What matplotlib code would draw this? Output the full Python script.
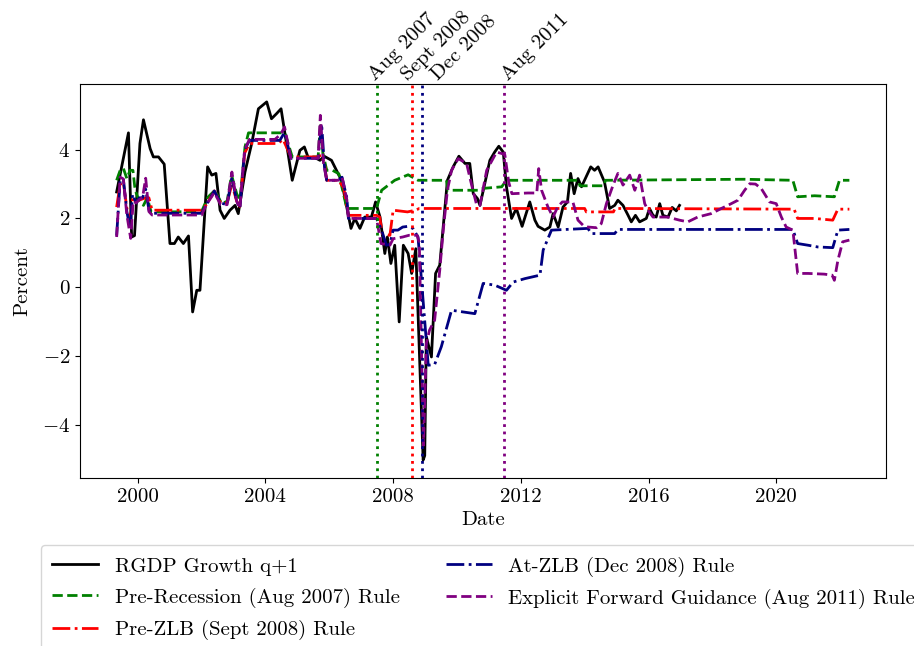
import matplotlib
matplotlib.use("Agg")
import matplotlib.pyplot as plt
import matplotlib.transforms as mtransforms

plt.rcParams["font.family"] = ["cmr10", "DejaVu Serif"]
plt.rcParams["mathtext.fontset"] = "cm"
plt.rcParams["axes.formatter.use_mathtext"] = True
plt.rcParams["axes.unicode_minus"] = True

# ---- data (dates as fractional years, values in percent) ----
gdp_t = [1999.34, 1999.71, 1999.81, 1999.9, 2000.07, 2000.18, 2000.39, 2000.49, 2000.65,
         2000.83, 2001.01, 2001.15, 2001.27, 2001.43, 2001.59, 2001.72, 2001.85, 2001.95,
         2002.19, 2002.32, 2002.45, 2002.58, 2002.71, 2002.89, 2003.05, 2003.15, 2003.36,
         2003.57, 2003.78, 2004.04, 2004.19, 2004.35, 2004.49, 2004.84, 2005.08, 2005.22,
         2005.34, 2005.55, 2005.71, 2005.84, 2006.07, 2006.38, 2006.68, 2006.8, 2006.96,
         2007.11, 2007.32, 2007.45, 2007.59, 2007.74, 2007.82, 2007.93, 2008.05, 2008.19,
         2008.32, 2008.47, 2008.58, 2008.71, 2008.94, 2008.99, 2009.04, 2009.2, 2009.33,
         2009.46, 2009.7, 2009.88, 2010.06, 2010.25, 2010.4, 2010.51, 2010.64, 2010.72,
         2010.87, 2011.03, 2011.18, 2011.31, 2011.45, 2011.55, 2011.71, 2011.86, 2012.04,
         2012.28, 2012.44, 2012.54, 2012.75, 2012.91, 2013.01, 2013.17, 2013.32, 2013.46,
         2013.56, 2013.67, 2013.79, 2013.9, 2014.02, 2014.19, 2014.31, 2014.42, 2014.62,
         2014.78, 2014.94, 2015.04, 2015.2, 2015.36, 2015.46, 2015.59, 2015.72, 2015.93,
         2016.03, 2016.14, 2016.24, 2016.35, 2016.45, 2016.61, 2016.74, 2016.87, 2016.97]
gdp_v = [2.77, 4.49, 1.46, 1.5, 4.18, 4.87, 4.03, 3.79, 3.79,
         3.58, 1.27, 1.27, 1.46, 1.27, 1.49, -0.72, -0.09, -0.09,
         3.50, 3.26, 3.31, 2.24, 2.0, 2.24, 2.38, 2.14, 3.35,
         4.18, 5.19, 5.39, 4.9, 5.05, 5.19, 3.11, 3.98, 4.08,
         3.77, 3.77, 3.69, 3.81, 3.69, 3.11, 1.71, 2.0, 1.71,
         2.04, 2.04, 2.48, 2.04, 0.98, 1.46, 0.69, 1.22, -1.01,
         1.22, 0.98, 0.4, 1.12, -5.03, -4.9, -1.44, -2.03, 0.4,
         0.64, 3.11, 3.5, 3.81, 3.6, 3.6, 2.72, 2.58, 2.38,
         3.01, 3.69, 3.93, 4.1, 3.93, 2.92, 2.0, 2.29, 1.77,
         2.48, 1.95, 1.77, 1.66, 1.75, 2.14, 1.75, 2.33, 2.48,
         3.31, 2.72, 3.16, 2.92, 3.16, 3.5, 3.4, 3.5, 3.06,
         2.29, 2.38, 2.53, 2.38, 2.09, 1.9, 2.09, 1.9, 2.0,
         2.29, 2.09, 2.04, 2.43, 2.09, 2.04, 2.32, 2.22, 2.38]

pre_rec_t = [1999.34, 1999.45, 1999.55, 1999.66, 1999.76, 1999.85, 1999.92, 2000.05, 2000.18,
             2000.3, 2000.42, 2001.0, 2002.0, 2002.2, 2002.42, 2002.63, 2002.8, 2002.94,
             2003.1, 2003.2, 2003.36, 2003.47, 2004.61, 2004.84, 2005.65, 2005.72, 2005.8,
             2005.92, 2006.1, 2006.3, 2006.55, 2007.48, 2007.64, 2008.05, 2008.47, 2008.78,
             2009.67, 2009.72, 2010.66, 2010.77, 2011.4, 2011.55, 2013.8, 2013.85, 2014.6,
             2014.65, 2019.0, 2020.52, 2020.67, 2021.2, 2021.82, 2021.98, 2022.29]
pre_rec_v = [3.11, 3.4, 3.46, 3.16, 3.4, 3.4, 2.82, 2.5, 2.38,
             2.6, 2.19, 2.19, 2.2, 2.62, 2.82, 2.43, 2.5, 3.26,
             2.72, 2.53, 4.08, 4.49, 4.49, 3.79, 3.79, 4.7, 3.9,
             3.4, 3.4, 3.3, 2.29, 2.29, 2.82, 3.11, 3.27, 3.11,
             3.11, 2.82, 2.82, 2.87, 2.92, 3.11, 3.11, 2.95, 2.95,
             3.11, 3.14, 3.11, 2.63, 2.66, 2.63, 3.11, 3.11]

pre_zlb_t = [1999.34, 1999.45, 1999.55, 1999.66, 1999.76, 1999.85, 1999.95, 2000.1, 2000.25,
             2000.35, 2000.45, 2001.0, 2002.0, 2002.15, 2002.4, 2002.6, 2002.8, 2002.95,
             2003.1, 2003.2, 2003.35, 2003.5, 2004.4, 2004.55, 2004.8, 2005.65, 2005.75,
             2005.85, 2005.92, 2006.28, 2006.45, 2006.6, 2007.48, 2007.58, 2007.66, 2007.9,
             2008.0, 2008.45, 2008.7, 2008.82, 2014.0, 2014.05, 2014.9, 2014.95, 2020.56,
             2020.67, 2021.2, 2021.77, 2021.93, 2022.29]
pre_zlb_v = [2.33, 3.0, 3.05, 2.3, 2.0, 2.6, 2.5, 2.55, 2.6,
             2.6, 2.24, 2.24, 2.24, 2.4, 2.8, 2.45, 2.45, 3.0,
             2.5, 2.35, 3.9, 4.18, 4.18, 4.3, 3.79, 3.79, 3.85,
             3.6, 3.11, 3.11, 2.9, 2.09, 2.09, 2.04, 1.56, 1.51,
             2.24, 2.19, 2.24, 2.29, 2.29, 2.19, 2.19, 2.29, 2.27,
             2.0, 2.0, 1.95, 2.27, 2.27]

at_zlb_t = [1999.34, 1999.45, 1999.55, 1999.66, 1999.76, 1999.84, 1999.95, 2000.05, 2000.15,
            2000.25, 2000.35, 2000.45, 2001.0, 2002.0, 2002.15, 2002.4, 2002.6, 2002.8,
            2002.95, 2003.1, 2003.2, 2003.35, 2003.5, 2004.45, 2004.6, 2004.8, 2005.65,
            2005.76, 2005.85, 2005.92, 2006.28, 2006.4, 2006.55, 2006.6, 2007.48, 2007.64,
            2007.79, 2007.9, 2008.0, 2008.15, 2008.3, 2008.47, 2008.62, 2008.78, 2009.1,
            2009.3, 2009.51, 2009.83, 2010.19, 2010.56, 2010.82, 2011.18, 2011.55, 2011.76,
            2012.13, 2012.6, 2012.7, 2012.96, 2014.1, 2014.21, 2014.94, 2015.04, 2020.52,
            2020.67, 2021.0, 2021.3, 2021.77, 2021.93, 2022.29]
at_zlb_v = [1.5, 3.1, 3.15, 2.2, 1.7, 2.7, 2.45, 2.6, 2.6,
            2.85, 2.25, 2.15, 2.15, 2.15, 2.4, 2.8, 2.45, 2.4,
            3.2, 2.5, 2.3, 4.0, 4.27, 4.27, 4.5, 3.75, 3.75,
            4.75, 3.5, 3.11, 3.11, 3.2, 2.6, 2.0, 2.0, 1.66,
            1.22, 1.25, 1.66, 1.66, 1.75, 1.77, 1.71, 1.46, -2.27,
            -2.25, -1.73, -0.67, -0.72, -0.77, 0.11, 0.06, -0.09, 0.15,
            0.25, 0.35, 1.08, 1.66, 1.71, 1.56, 1.56, 1.68, 1.68,
            1.27, 1.22, 1.17, 1.15, 1.66, 1.68]

efg_t = [1999.34, 1999.45, 1999.55, 1999.66, 1999.78, 1999.86, 1999.95, 2000.05, 2000.15,
         2000.25, 2000.35, 2000.45, 2001.0, 2002.0, 2002.15, 2002.4, 2002.6, 2002.8,
         2002.95, 2003.1, 2003.2, 2003.35, 2003.5, 2004.3, 2004.48, 2004.6, 2004.8, 2005.65,
         2005.72, 2005.82, 2005.92, 2006.28, 2006.4, 2006.55, 2006.6, 2007.48, 2007.62,
         2007.9, 2008.0, 2008.3, 2008.5, 2008.75, 2008.82, 2008.95, 2009.04, 2009.14,
         2009.3, 2009.46, 2009.57, 2009.7, 2009.83, 2010.04, 2010.3, 2010.46, 2010.62,
         2010.72, 2010.93, 2011.24, 2011.4, 2011.5, 2011.62, 2011.72, 2012.22, 2012.5,
         2012.56, 2012.65, 2012.85, 2013.01, 2013.15, 2013.3, 2013.63, 2013.79, 2013.95,
         2014.1, 2014.37, 2014.52, 2014.68, 2014.89, 2015.04, 2015.2, 2015.41, 2015.57,
         2015.72, 2015.88, 2015.98, 2016.14, 2016.6, 2016.97, 2017.23, 2017.54, 2017.96,
         2018.28, 2018.59, 2018.8, 2019.01, 2019.17, 2019.35, 2019.53, 2019.79, 2020.0,
         2020.16, 2020.31, 2020.52, 2020.67, 2021.0, 2021.5, 2021.75, 2021.82, 2021.93,
         2022.08, 2022.29]
efg_v = [1.46, 3.2, 3.15, 2.1, 1.42, 2.5, 2.45, 2.55, 2.6,
         3.17, 2.2, 2.1, 2.1, 2.1, 2.4, 2.75, 2.4, 2.4,
         3.35, 2.5, 2.3, 4.0, 4.3, 4.3, 4.45, 4.66, 3.75, 3.75,
         5.0, 3.6, 3.11, 3.11, 3.2, 2.55, 2.0, 2.0, 1.27,
         1.22, 1.41, 1.46, 1.51, 1.51, 1.3, -4.6, -1.64, -1.25,
         -0.96, 0.49, 1.66, 2.82, 3.4, 3.74, 3.6, 2.97, 2.38,
         2.38, 3.4, 3.93, 3.89, 3.85, 3.06, 2.72, 2.74, 2.74,
         3.45, 2.82, 2.33, 2.04, 2.33, 2.48, 2.48, 1.95, 1.8,
         1.75, 1.73, 1.85, 2.43, 2.97, 3.31, 2.97, 3.26, 2.82,
         3.26, 2.43, 2.24, 2.04, 2.04, 1.95, 1.9, 2.04, 2.14,
         2.29, 2.43, 2.53, 2.82, 3.01, 3.0, 2.87, 2.48, 2.43,
         2.04, 1.75, 1.66, 0.4, 0.4, 0.38, 0.35, 0.2, 0.78,
         1.32, 1.37]

event_t = [2007.48, 2008.58, 2008.9, 2011.46]
event_label_t = [2007.54, 2008.55, 2009.5, 2011.7]
event_labels = ["Aug 2007", "Sept 2008", "Dec 2008", "Aug 2011"]
event_colors = ["green", "red", "navy", "purple"]

year_ticks = [2000, 2004, 2008, 2012, 2016, 2020]

# ---- figure ----
fig = plt.figure(figsize=(9.14, 6.46), dpi=100)
ax = fig.add_axes([80 / 914, 1 - 478 / 646, 806 / 914, 394 / 646])

fs = 15
ax.plot(gdp_t, gdp_v, color="black", lw=2.0, label="RGDP Growth q+1")
ax.plot(pre_rec_t, pre_rec_v, color="green", lw=2.0, ls="--",
        label="Pre-Recession (Aug 2007) Rule")
ax.plot(pre_zlb_t, pre_zlb_v, color="red", lw=2.0, ls="-.",
        label="Pre-ZLB (Sept 2008) Rule")
ax.plot(at_zlb_t, at_zlb_v, color="navy", lw=2.0, ls="-.",
        label="At-ZLB (Dec 2008) Rule")
ax.plot(efg_t, efg_v, color="purple", lw=2.0, ls="--",
        label="Explicit Forward Guidance (Aug 2011) Rule")

trans = mtransforms.blended_transform_factory(ax.transData, ax.transAxes)
for t, c in zip(event_t, event_colors):
    ax.axvline(t, color=c, ls=":", lw=2.0)
for t, lab in zip(event_label_t, event_labels):
    ax.text(t, 1.0, lab, transform=trans, rotation=45, rotation_mode="anchor",
            ha="left", va="bottom", fontsize=fs)

ax.set_xticks(year_ticks)
ax.set_xticklabels([str(y) for y in year_ticks])
ax.set_yticks([-4, -2, 0, 2, 4])
ax.tick_params(labelsize=fs)
ax.set_xlabel("Date", fontsize=fs)
ax.set_ylabel("Percent", fontsize=fs, labelpad=8)

fig.legend(loc="upper left", bbox_to_anchor=(41 / 914, 1 - 545 / 646), ncol=2,
           fontsize=fs, borderaxespad=0, handlelength=2.2, columnspacing=2.2,
           labelspacing=0.58, borderpad=0.55)

fig.savefig("out.png", dpi=100)
